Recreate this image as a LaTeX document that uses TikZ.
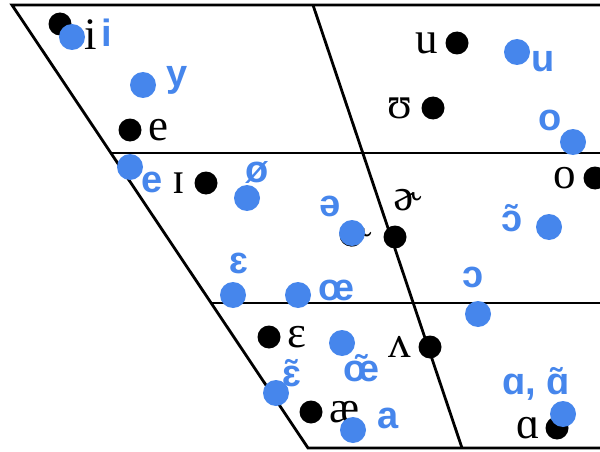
\documentclass[tikz,border=0pt]{standalone}
\usepackage{fontspec}
\setmainfont{Liberation Serif}
\newfontfamily\frsans{Liberation Sans}
\usetikzlibrary{positioning}
\definecolor{frblue}{RGB}{70,134,236}

\begin{document}
\begin{tikzpicture}[
    x=1pt, y=-1pt,
    grid/.style={line width=2.8pt},
    endot/.style={circle, fill=black, inner sep=0pt, minimum size=23pt},
    frdot/.style={circle, fill=frblue, inner sep=0pt, minimum size=26pt},
    enlab/.style={inner sep=0pt, font=\fontsize{45}{45}\selectfont},
    frlab/.style={inner sep=0pt, text=frblue, font=\frsans\bfseries\fontsize{38}{38}\selectfont}
]
\useasboundingbox (0,0) rectangle (600,452);

% chart frame
\coordinate (closeL) at (12,5);
\coordinate (closeR) at (600,5);
\coordinate (midAL) at (111,153);
\coordinate (midAR) at (600,153);
\coordinate (midBL) at (211,303);
\coordinate (midBR) at (600,303);
\coordinate (openL) at (308,448);
\coordinate (openR) at (600,448);
\coordinate (centT) at (313,5);
\coordinate (centB) at (462,448);
\draw[grid] (closeR) -- (closeL) -- (openL) -- (openR);
\draw[grid] (midAL) -- (midAR);
\draw[grid] (midBL) -- (midBR);
\draw[grid] (centT) -- (centB);

% English vowels
\node[endot] (en-i) at (60,24) {};
\node[enlab] (en-i-l) at (91,35) {i};
\node[endot] (en-e) at (130,130) {};
\node[enlab, right=7pt of en-e] (en-e-l) {e};
\node[endot] (en-u) at (457,43) {};
\node[enlab, left=7pt of en-u] (en-u-l) {u};
\node[endot] (en-U) at (433,108) {};
\node[enlab, left=9pt of en-U] (en-U-l) {ʊ};
\node[endot] (en-I) at (206,183) {};
\node[enlab, left=9pt of en-I] (en-I-l) {ɪ};
\node[endot] (en-o) at (595,178) {};
\node[enlab, left=7pt of en-o] (en-o-l) {o};
\node[endot] (en-R) at (395,237) {};
\node[enlab] (en-R-l) at (408,200) {ɚ};
\node[endot] (en-R2) at (351,235) {};
\node[enlab] (en-R2-l) at (358,236) {ɚ};
\node[endot] (en-E) at (269,337) {};
\node[enlab, right=7pt of en-E] (en-E-l) {ɛ};
\node[endot] (en-V) at (430,347) {};
\node[enlab, left=7pt of en-V] (en-V-l) {ʌ};
\node[endot] (en-ae) at (311,412) {};
\node[enlab, right=7pt of en-ae] (en-ae-l) {æ};
\node[endot] (en-A) at (557,428) {};
\node[enlab, left=5pt of en-A] (en-A-l) {ɑ};

% French vowels
\node[frdot] (fr-i) at (72,37) {};
\node[frlab] (fr-i-l) at (107,33) {i};
\node[frdot] (fr-y) at (143,85) {};
\node[frlab] (fr-y-l) at (177,80) {y};
\node[frdot] (fr-u) at (517,52) {};
\node[frlab] (fr-u-l) at (543,62) {u};
\node[frdot] (fr-o) at (573,142) {};
\node[frlab] (fr-o-l) at (550,120) {o};
\node[frdot] (fr-e) at (130,167) {};
\node[frlab] (fr-e-l) at (152,182) {e};
\node[frdot] (fr-oe) at (247,198) {};
\node[frlab] (fr-oe-l) at (257,172) {ø};
\node[frdot] (fr-schwa) at (352,233) {};
\node[frlab] (fr-schwa-l) at (330,206) {ə};
\node[frdot] (fr-E) at (233,295) {};
\node[frlab] (fr-E-l) at (239,263) {ɛ};
\node[frdot] (fr-OE) at (298,295) {};
\node[frlab] (fr-OE-l) at (336,290) {œ};
\node[frdot] (fr-On) at (549,227) {};
\node[frlab] (fr-On-l) at (512,218) {ɔ̃};
\node[frdot] (fr-O) at (478,314) {};
\node[frlab] (fr-O-l) at (473,277) {ɔ};
\node[frdot] (fr-OEn) at (342,343) {};
\node[frlab] (fr-OEn-l) at (361,368) {œ̃};
\node[frdot] (fr-En) at (276,393) {};
\node[frlab] (fr-En-l) at (292,373) {ɛ̃};
\node[frdot] (fr-a) at (353,430) {};
\node[frlab] (fr-a-l) at (388,418) {a};
\node[frdot] (fr-A) at (563,414) {};
\node[frlab] (fr-A-l) at (536,384) {ɑ, ɑ̃};
\end{tikzpicture}
\end{document}
